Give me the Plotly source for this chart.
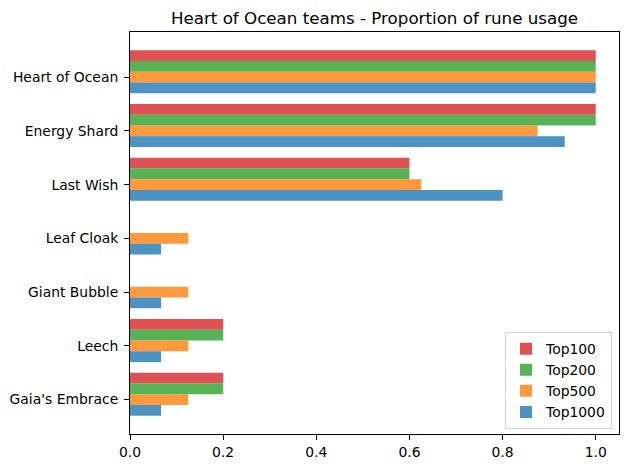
import plotly.graph_objects as go

categories = ["Heart of Ocean", "Energy Shard", "Last Wish", "Leaf Cloak",
              "Giant Bubble", "Leech", "Gaia's Embrace"]
series_names = ["Top100", "Top200", "Top500", "Top1000"]
top100 = [1.0, 1.0, 0.6, 0.0, 0.0, 0.2, 0.2]
top200 = [1.0, 1.0, 0.6, 0.0, 0.0, 0.2, 0.2]
top500 = [1.0, 0.875, 0.625, 0.125, 0.125, 0.125, 0.125]
top1000 = [1.0, 0.9333, 0.8, 0.0667, 0.0667, 0.0667, 0.0667]
x_ticks = [0.0, 0.2, 0.4, 0.6, 0.8, 1.0]

series_values = [top100, top200, top500, top1000]
colors = ["rgba(214,39,40,0.8)", "rgba(44,160,44,0.8)",
          "rgba(255,127,14,0.8)", "rgba(31,119,180,0.8)"]
offsets = [-0.5, -0.3, -0.1, 0.1]

FONT = "DejaVu Sans"
fig = go.Figure()
for name, vals, col, off in zip(series_names, series_values, colors, offsets):
    fig.add_trace(go.Bar(
        y=categories, x=vals, name=name, orientation="h",
        width=0.2, offset=off,
        marker=dict(color=col, line=dict(width=0)),
    ))

fig.update_layout(
    width=630, height=470,
    margin=dict(l=129, r=10, t=32, b=34),
    paper_bgcolor="white", plot_bgcolor="white",
    barmode="overlay",
    font=dict(family=FONT, size=13.9, color="black"),
    title=dict(text="Heart of Ocean teams - Proportion of rune usage",
               x=0.5, xref="paper", xanchor="center",
               y=1 - 18 / 470, yref="container", yanchor="middle",
               font=dict(family=FONT, size=16.7, color="black")),
    legend=dict(x=0.9857, y=0.012, xanchor="right", yanchor="bottom",
                bgcolor="rgba(255,255,255,0.8)", bordercolor="#d0d0d0",
                borderwidth=1, traceorder="normal", tracegroupgap=0,
                font=dict(family=FONT, size=13.9, color="black")),
    showlegend=True,
)
fig.update_xaxes(
    range=[0, 1.05], tickvals=x_ticks, tickformat=".1f",
    showline=True, linecolor="black", linewidth=1, mirror=True,
    ticks="outside", ticklen=5, tickwidth=1, tickcolor="black",
    showgrid=False, zeroline=False,
)
fig.update_yaxes(
    type="category", categoryorder="array", categoryarray=categories,
    range=[6.64, -0.84],
    showline=True, linecolor="black", linewidth=1, mirror=True,
    ticks="outside", ticklen=5, tickwidth=1, tickcolor="black",
    ticklabelstandoff=3,
    showgrid=False, zeroline=False,
)

fig.write_html("out.html")
